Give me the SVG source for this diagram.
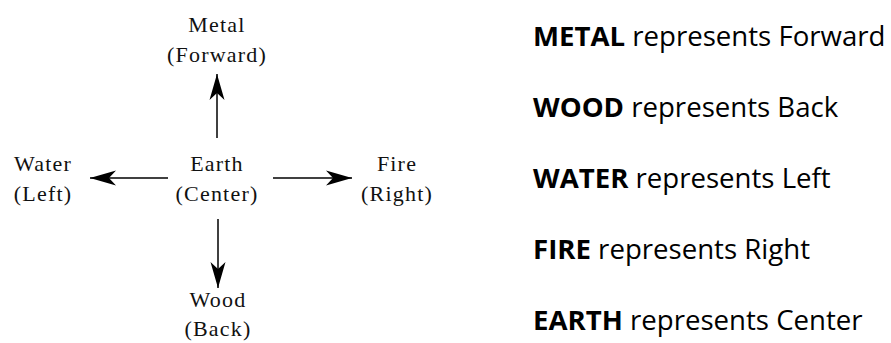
<svg xmlns="http://www.w3.org/2000/svg" width="891" height="343" viewBox="0 0 891 343">
<defs>
<style>
.lbl{font-family:"Liberation Serif","Times New Roman",serif;font-size:22px;fill:#111;text-anchor:middle;letter-spacing:1.2px}
.leg{font-family:"Open Sans","Noto Sans",sans-serif;font-size:27.6px;fill:#000}
.leg .b{font-weight:bold}
.ln{stroke:#000;stroke-width:1.5;fill:none}
</style>
<marker id="ah" markerUnits="userSpaceOnUse" viewBox="-28 -8 30 16" refX="0" refY="0" markerWidth="30" markerHeight="16" orient="auto">
<path d="M0,0 L-26,-7.5 L-19,0 L-26,7.5 Z" fill="#000"/>
</marker>
</defs>
<rect width="891" height="343" fill="#fff"/>
<g id="connectors">
<line class="ln" x1="217" y1="138" x2="217" y2="74" marker-end="url(#ah)"/>
<line class="ln" x1="168" y1="178" x2="90" y2="178" marker-end="url(#ah)"/>
<line class="ln" x1="273" y1="178" x2="352" y2="178" marker-end="url(#ah)"/>
<line class="ln" x1="218" y1="219" x2="218" y2="288" marker-end="url(#ah)"/>
</g>
<g id="metal"><text class="lbl" x="217" y="32">Metal</text><text class="lbl" x="217" y="62">(Forward)</text></g>
<g id="earth"><text class="lbl" x="217" y="171">Earth</text><text class="lbl" x="217" y="201">(Center)</text></g>
<g id="water"><text class="lbl" x="43" y="171">Water</text><text class="lbl" x="43" y="201">(Left)</text></g>
<g id="fire"><text class="lbl" x="397" y="171">Fire</text><text class="lbl" x="397" y="201">(Right)</text></g>
<g id="wood"><text class="lbl" x="218" y="307">Wood</text><text class="lbl" x="218" y="336">(Back)</text></g>
<g id="legend">
<text class="leg" x="533" y="46"><tspan class="b">METAL</tspan> represents Forward</text>
<text class="leg" x="533" y="117"><tspan class="b">WOOD</tspan> represents Back</text>
<text class="leg" x="533" y="188"><tspan class="b">WATER</tspan> represents Left</text>
<text class="leg" x="533" y="259"><tspan class="b">FIRE</tspan> represents Right</text>
<text class="leg" x="533" y="330"><tspan class="b">EARTH</tspan> represents Center</text>
</g>
</svg>
